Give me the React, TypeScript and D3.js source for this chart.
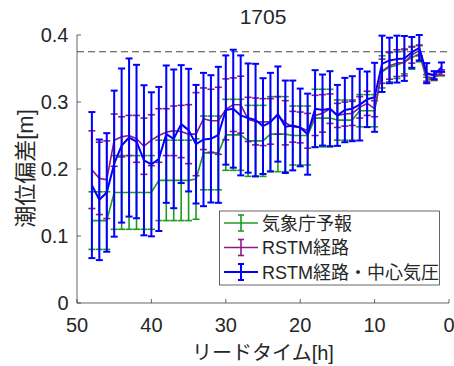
import React from "react";
import * as d3 from "d3";

const hours = [48,47,46,45,44,43,42,41,40,39,38,37,36,35,34,33,32,31,30,29,28,27,26,25,24,23,22,21,20,19,18,17,16,15,14,13,12,11,10,9,8,7,6,5,4,3,2,1];

const jmaMean = [0.123,0.123,0.123,0.165,0.165,0.165,0.165,0.165,0.165,0.183,0.183,0.183,0.183,0.183,0.185,0.224,0.224,0.224,0.251,0.251,0.251,0.242,0.242,0.242,0.252,0.252,0.252,0.25,0.25,0.25,0.276,0.276,0.276,0.273,0.273,0.273,0.287,0.287,0.287,0.345,0.352,0.355,0.36,0.366,0.372,0.333,0.336,0.342];
const jmaErr = [0.043,0.043,0.043,0.055,0.055,0.055,0.055,0.055,0.055,0.06,0.06,0.06,0.06,0.06,0.06,0.055,0.055,0.055,0.053,0.053,0.053,0.053,0.053,0.053,0.056,0.056,0.056,0.044,0.044,0.044,0.043,0.043,0.043,0.03,0.03,0.03,0.024,0.024,0.024,0.024,0.022,0.02,0.018,0.017,0.012,0.004,0.004,0.003];

const rstmMean = [0.199,0.186,0.184,0.243,0.248,0.25,0.245,0.234,0.243,0.25,0.255,0.257,0.256,0.252,0.252,0.275,0.272,0.272,0.289,0.296,0.296,0.274,0.271,0.27,0.271,0.28,0.269,0.263,0.262,0.257,0.28,0.283,0.29,0.28,0.282,0.283,0.292,0.298,0.29,0.346,0.354,0.358,0.359,0.37,0.377,0.336,0.337,0.344];
const rstmErr = [0.058,0.054,0.058,0.039,0.03,0.03,0.035,0.042,0.038,0.04,0.035,0.037,0.039,0.044,0.062,0.046,0.047,0.05,0.0455,0.04,0.0425,0.033,0.035,0.035,0.034,0.028,0.033,0.023,0.023,0.026,0.03,0.028,0.022,0.018,0.018,0.018,0.016,0.018,0.012,0.018,0.02,0.02,0.02,0.012,0.008,0.005,0.004,0.004];

const rstmpMean = [0.176,0.154,0.165,0.208,0.235,0.247,0.241,0.213,0.207,0.215,0.252,0.245,0.267,0.258,0.237,0.244,0.245,0.251,0.288,0.29,0.28,0.276,0.273,0.264,0.27,0.282,0.263,0.265,0.262,0.252,0.29,0.288,0.29,0.28,0.288,0.29,0.296,0.304,0.307,0.357,0.362,0.364,0.365,0.374,0.381,0.343,0.34,0.352];
const rstmpErr = [0.109,0.09,0.0885,0.109,0.115,0.118,0.1145,0.112,0.1075,0.1075,0.1025,0.1035,0.088,0.0915,0.0885,0.0995,0.095,0.1015,0.0815,0.088,0.0895,0.0815,0.084,0.0715,0.0735,0.071,0.069,0.067,0.058,0.0605,0.0575,0.053,0.056,0.0455,0.048,0.0485,0.0535,0.0415,0.0515,0.042,0.034,0.035,0.0335,0.023,0.019,0.015,0.006,0.007];

const xTicks = [50, 40, 30, 20, 10, 0];
const yTicks = [0, 0.1, 0.2, 0.3, 0.4];
const yTickLabels = ["0", "0.1", "0.2", "0.3", "0.4"];
const threshold = 0.375;
const titleText = "1705";
const xLabel = "リードタイム[h]";
const yLabel = "潮位偏差[m]";
const seriesNames = ["気象庁予報", "RSTM経路", "RSTM経路・中心気圧"];
const seriesColors = ["#1e9a1e", "#8a1a8a", "#0000ff"];
const seriesWidths = [1.6, 1.6, 2];

const W = 454, H = 366;
const L = 77, R = 449, T = 35, B = 303;
const FONT = "'Liberation Sans', Arial, 'Noto Sans CJK JP', sans-serif";
const TXT = "#262626";

export default function App() {
  const x = d3.scaleLinear().domain([50, 0]).range([L, R]);
  const y = d3.scaleLinear().domain([0, 0.4]).range([B, T]);
  const series = [
    { mean: jmaMean, err: jmaErr },
    { mean: rstmMean, err: rstmErr },
    { mean: rstmpMean, err: rstmpErr },
  ];
  const line = d3.line<number>().x((_, i) => x(hours[i])).y((d) => y(d));
  const cap = 3.5;
  const legendRows = [223, 247.5, 272];

  return (
    <svg width={W} height={H} style={{ position: "absolute", left: 0, top: 0, background: "#fff" }} fontFamily={FONT}>
      <rect x={0} y={0} width={W} height={H} fill="#fff" />
      {/* threshold */}
      <line x1={L} x2={R} y1={y(threshold)} y2={y(threshold)} stroke="#444" strokeWidth={1} strokeDasharray="7,4" />
      {/* series */}
      {series.map((s, si) => (
        <g key={si} stroke={seriesColors[si]} strokeWidth={seriesWidths[si]} fill="none">
          {s.mean.map((m, i) => {
            const cx = x(hours[i]);
            const y1 = y(m + s.err[i]);
            const y2 = y(m - s.err[i]);
            return (
              <g key={i}>
                <line x1={cx} x2={cx} y1={y1} y2={y2} />
                <line x1={cx - cap} x2={cx + cap} y1={y1} y2={y1} />
                <line x1={cx - cap} x2={cx + cap} y1={y2} y2={y2} />
              </g>
            );
          })}
          <path d={line(s.mean) || ""} strokeLinejoin="round" />
        </g>
      ))}
      {/* axes */}
      <line x1={L} x2={L} y1={T} y2={B} stroke="#262626" strokeWidth={0.7} />
      <line x1={L} x2={R} y1={B} y2={B} stroke="#262626" strokeWidth={0.7} />
      {xTicks.map((t) => (
        <g key={t}>
          <line x1={x(t)} x2={x(t)} y1={B} y2={B - 4} stroke="#262626" strokeWidth={0.7} />
          <text x={x(t)} y={331.5} textAnchor="middle" fontSize={20} fill={TXT}>{t}</text>
        </g>
      ))}
      {yTicks.map((t, i) => (
        <g key={t}>
          <line x1={L} x2={L + 4} y1={y(t)} y2={y(t)} stroke="#262626" strokeWidth={0.7} />
          <text x={68.5} y={y(t) + 7.3} textAnchor="end" fontSize={20} fill={TXT}>{yTickLabels[i]}</text>
        </g>
      ))}
      {/* title and labels */}
      <text x={263} y={23.5} textAnchor="middle" fontSize={21} fill={TXT}>{titleText}</text>
      <text x={263} y={360} textAnchor="middle" fontSize={20} fill={TXT}>{xLabel}</text>
      <text transform={`translate(33,168.5) rotate(-90)`} textAnchor="middle" fontSize={22} fill={TXT}>{yLabel}</text>
      {/* legend */}
      <rect x={219.5} y={211} width={220} height={74} fill="#fff" stroke="#262626" strokeWidth={0.7} />
      {seriesNames.map((n, i) => {
        const cy = legendRows[i];
        return (
          <g key={n}>
            <g stroke={seriesColors[i]} strokeWidth={seriesWidths[i]}>
              <line x1={224} x2={258} y1={cy} y2={cy} />
              <line x1={241} x2={241} y1={cy - 8} y2={cy + 8} />
              <line x1={238} x2={244} y1={cy - 8} y2={cy - 8} />
              <line x1={238} x2={244} y1={cy + 8} y2={cy + 8} />
            </g>
            <text x={262} y={cy + 6.5} fontSize={18} fill={TXT}>{n}</text>
          </g>
        );
      })}
    </svg>
  );
}
